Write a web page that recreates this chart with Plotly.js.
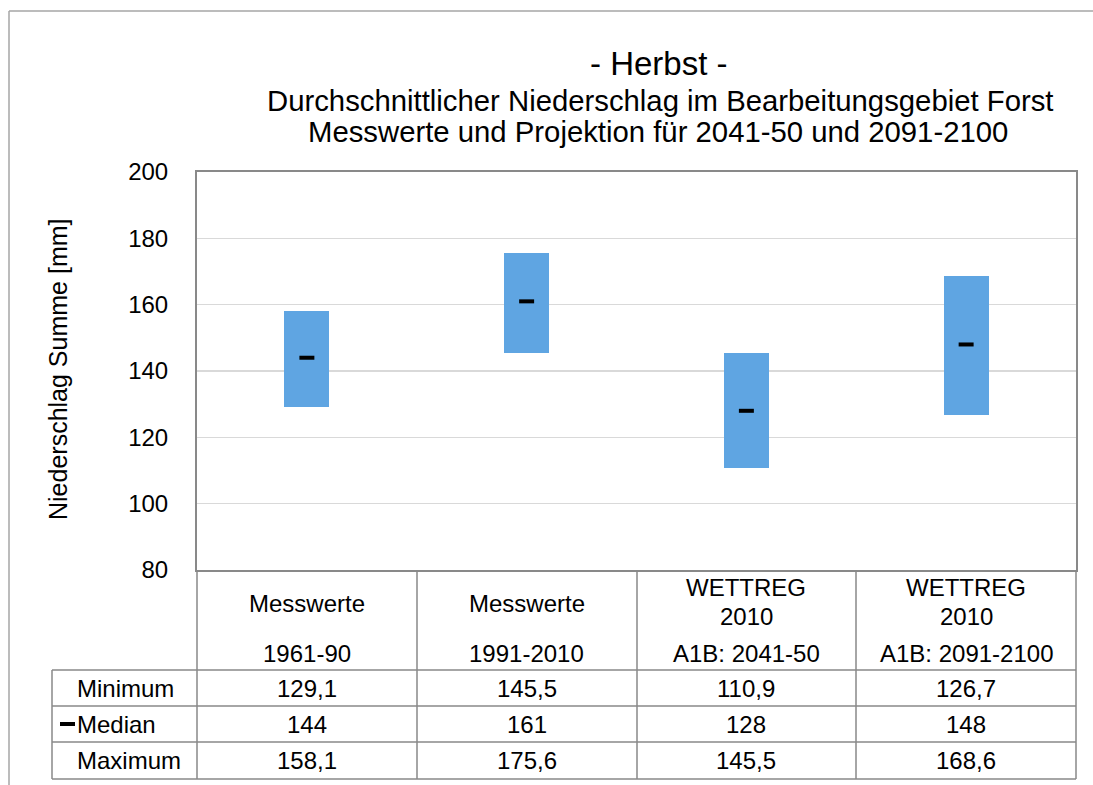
<!DOCTYPE html>
<html>
<head>
<meta charset="utf-8">
<script src="https://cdn.plot.ly/plotly-3.0.1.min.js"></script>
<style>html,body{margin:0;padding:0;background:#fff;}#chart{width:1093px;height:785px;}</style>
</head>
<body>
<div id="chart"></div>
<script>
// ---- data ----
const catLine1 = ['Messwerte', 'Messwerte', 'WETTREG', 'WETTREG'];
const catLine2 = ['', '', '2010', '2010'];
const periods = ['1961-90', '1991-2010', 'A1B: 2041-50', 'A1B: 2091-2100'];
const minVals = [129.1, 145.5, 110.9, 126.7];
const medVals = [144, 161, 128, 148];
const maxVals = [158.1, 175.6, 145.5, 168.6];
const rowLabels = ['Minimum', 'Median', 'Maximum'];
const yTicks = [80, 100, 120, 140, 160, 180, 200];

// ---- layout helpers (pixel -> paper) ----
const W = 1093, H = 785;
const PL = 197, PR = 1076, PT = 172, PB = 570;
const X = px => (px - PL) / (PR - PL);
const Y = py => (PB - py) / (PB - PT);
const FONT = 'Liberation Sans, Arial, sans-serif';
const GRID = '#898989';

const idx = catLine1.map((_, i) => i);
const fmt = v => String(v).replace('.', ',');

const traces = [
  {
    type: 'bar',
    x: idx,
    base: minVals,
    y: maxVals.map((v, i) => v - minVals[i]),
    width: 0.205,
    marker: {color: '#5fa5e2'},
    hoverinfo: 'skip',
    showlegend: false
  },
  {
    type: 'scatter',
    mode: 'markers',
    x: idx,
    y: medVals,
    marker: {symbol: 'line-ew', size: 10.7, color: '#000', line: {color: '#000', width: 4}},
    showlegend: false,
    hoverinfo: 'skip'
  }
];

const ann = [];
const shapes = [];
const txt = (x, y, text, size, opts) => Object.assign({
  x: x, y: y, xref: 'paper', yref: 'paper', text: text, showarrow: false,
  xanchor: 'center', yanchor: 'middle', font: {family: FONT, size: size, color: '#000'}
}, opts || {});

// titles
ann.push(txt(X(659), Y(64), '- Herbst -', 33));
ann.push(txt(X(660), Y(100), 'Durchschnittlicher Niederschlag im Bearbeitungsgebiet Forst', 29.3));
ann.push(txt(X(658), Y(131), 'Messwerte und Projektion für 2041-50 und 2091-2100', 29.3));

// y-axis title
ann.push(txt(X(58), Y(370), 'Niederschlag Summe [mm]', 25, {textangle: -90}));

// category labels and table values
idx.forEach(i => {
  const base = {xref: 'x'};
  if (catLine2[i]) {
    ann.push(txt(i, Y(587), catLine1[i], 24, base));
    ann.push(txt(i, Y(616), catLine2[i], 24, base));
  } else {
    ann.push(txt(i, Y(603), catLine1[i], 24, base));
  }
  ann.push(txt(i, Y(653), periods[i], 24, base));
  ann.push(txt(i, Y(688), fmt(minVals[i]), 24, base));
  ann.push(txt(i, Y(724), fmt(medVals[i]), 24, base));
  ann.push(txt(i, Y(760), fmt(maxVals[i]), 24, base));
});
// row labels
const rowY = [688, 724, 760];
rowLabels.forEach((r, k) => {
  ann.push(txt(X(75), Y(rowY[k]), r, 24, {xanchor: 'left'}));
});

// table lines
const line = (x0, y0, x1, y1, w, c) => ({
  type: 'line', xref: 'paper', yref: 'paper', x0: X(x0), y0: Y(y0), x1: X(x1), y1: Y(y1),
  line: {color: c || GRID, width: w || 1.5}, layer: 'above'
});
[417, 637, 856].forEach(x => shapes.push(line(x, 570, x, 779)));
shapes.push(line(PL, 570, PL, 779));
shapes.push(line(PR, 570, PR, 779));
shapes.push(line(52, 670, 52, 779));
[670, 706, 742, 779].forEach(y => shapes.push(line(52, y, PR, y)));
// median legend key
shapes.push(line(60, 724, 75, 724, 4, '#000'));
// outer frame
shapes.push(line(9, 11, W, 11, 1.5, '#a6a6a6'));
shapes.push(line(9, 11, 9, H, 1.5, '#a6a6a6'));

const layout = {
  width: W, height: H,
  margin: {l: PL, r: W - PR, t: PT, b: H - PB, pad: 0},
  paper_bgcolor: '#fff', plot_bgcolor: '#fff',
  showlegend: false,
  bargap: 0,
  xaxis: {
    range: [-0.5, 3.5], showticklabels: false, showgrid: false, zeroline: false,
    showline: true, mirror: true, linecolor: GRID, linewidth: 2, ticks: '', fixedrange: true
  },
  yaxis: {
    range: [80, 200], tickvals: yTicks, ticktext: yTicks.map(String),
    showgrid: true, gridcolor: '#d9d9d9', gridwidth: 1.2, zeroline: false,
    showline: true, mirror: true, linecolor: GRID, linewidth: 2, ticks: '',
    ticklabelstandoff: 22,
    tickfont: {family: FONT, size: 24, color: '#000'}, fixedrange: true
  },
  annotations: ann,
  shapes: shapes
};

Plotly.newPlot('chart', traces, layout, {displayModeBar: false, staticPlot: true});
</script>
</body>
</html>
